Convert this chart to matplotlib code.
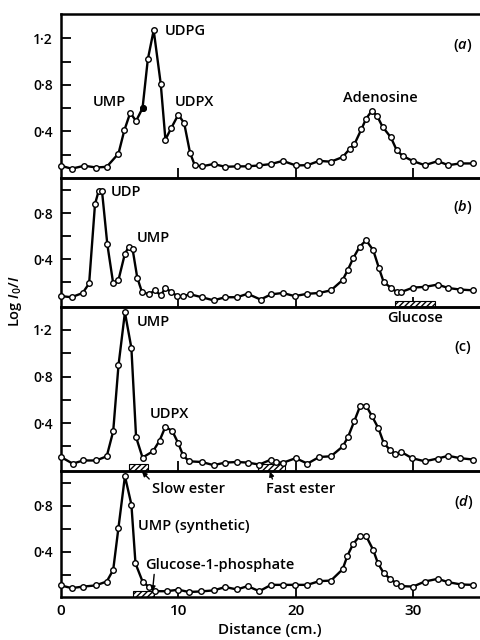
import matplotlib
matplotlib.use("Agg")
import matplotlib.pyplot as plt

plt.rcParams['font.family'] = ['Open Sans', 'DejaVu Sans']
plt.rcParams['font.weight'] = 'semibold'
plt.rcParams['mathtext.fontset'] = 'custom'
plt.rcParams['mathtext.it'] = 'Open Sans:italic:semibold'
plt.rcParams['mathtext.rm'] = 'Open Sans:semibold'

# panel (a)
dist_a = [0, 0.9, 2.0, 3.0, 3.9, 4.9, 5.4, 5.9, 6.4, 6.95, 7.4, 7.9, 8.5, 8.9, 9.4,
          10.0, 10.5, 11.0, 11.4, 12.0, 13.0, 14.0, 15.0, 15.9, 16.9, 17.9, 18.9,
          20.0, 21.0, 22.0, 23.0, 24.0, 24.6, 25.0, 25.6, 26.0, 26.5, 26.95, 27.4,
          28.1, 28.6, 29.1, 30.0, 31.0, 32.1, 33.0, 34.0, 35.1]
logi_a = [0.105, 0.08, 0.105, 0.09, 0.096, 0.21, 0.41, 0.56, 0.49, 0.6, 1.02, 1.27,
          0.81, 0.33, 0.43, 0.545, 0.47, 0.215, 0.11, 0.1, 0.12, 0.096, 0.1, 0.1,
          0.108, 0.12, 0.147, 0.108, 0.11, 0.147, 0.14, 0.18, 0.25, 0.29, 0.42, 0.51,
          0.58, 0.53, 0.44, 0.35, 0.24, 0.19, 0.145, 0.11, 0.145, 0.11, 0.125, 0.125]
filled_a = [6.95]
filled_logi_a = [0.6]

# panel (b)
dist_b = [0, 0.9, 1.85, 2.4, 2.9, 3.2, 3.5, 3.95, 4.45, 4.9, 5.45, 5.8, 6.1, 6.5,
          6.9, 7.5, 8.0, 8.5, 8.9, 9.4, 9.9, 10.4, 11.0, 12.0, 13.0, 14.0, 15.0,
          15.9, 17.0, 17.9, 18.9, 19.9, 21.0, 22.0, 23.0, 24.0, 24.45, 24.9, 25.45,
          26.0, 26.6, 27.1, 27.5, 28.1, 28.6, 29.0, 30.0, 31.0, 32.1, 33.0, 34.0, 35.1]
logi_b = [0.08, 0.07, 0.107, 0.19, 0.88, 0.99, 0.99, 0.53, 0.19, 0.22, 0.45, 0.51,
          0.49, 0.24, 0.116, 0.096, 0.13, 0.087, 0.15, 0.116, 0.08, 0.078, 0.096,
          0.07, 0.043, 0.07, 0.07, 0.1, 0.05, 0.095, 0.107, 0.08, 0.1, 0.107, 0.13,
          0.22, 0.31, 0.41, 0.51, 0.565, 0.48, 0.32, 0.2, 0.154, 0.116, 0.116, 0.154,
          0.16, 0.18, 0.15, 0.137, 0.13]

# panel (c)
dist_c = [0, 1.0, 1.9, 3.0, 3.9, 4.45, 4.9, 5.45, 6.0, 6.4, 6.95, 7.85, 8.4, 8.9,
          9.5, 10.0, 10.4, 10.9, 12.0, 13.0, 14.0, 15.0, 15.9, 16.9, 17.9, 18.3,
          18.9, 20.0, 21.0, 22.0, 23.0, 24.0, 24.45, 25.0, 25.5, 26.0, 26.5, 27.05,
          27.5, 28.0, 28.5, 29.0, 29.9, 31.0, 32.1, 33.0, 34.0, 35.1]
logi_c = [0.11, 0.053, 0.08, 0.08, 0.116, 0.33, 0.895, 1.35, 1.045, 0.28, 0.105,
          0.16, 0.25, 0.37, 0.33, 0.226, 0.125, 0.073, 0.067, 0.04, 0.062, 0.067,
          0.062, 0.045, 0.088, 0.067, 0.06, 0.1, 0.053, 0.11, 0.116, 0.2, 0.28, 0.42,
          0.55, 0.55, 0.46, 0.355, 0.23, 0.174, 0.134, 0.153, 0.1, 0.073, 0.097,
          0.12, 0.1, 0.088]

# panel (d)
dist_d = [0, 0.9, 1.9, 2.95, 3.9, 4.45, 4.9, 5.45, 6.0, 6.35, 6.95, 7.5, 8.0, 9.0,
          10.0, 10.9, 11.9, 13.0, 14.0, 15.0, 15.9, 16.9, 17.9, 18.9, 19.9, 21.0,
          22.0, 23.0, 24.0, 24.4, 24.9, 25.45, 26.0, 26.6, 27.0, 27.5, 28.05, 28.55,
          29.0, 30.0, 31.0, 32.1, 33.0, 34.1, 35.1]
logi_d = [0.11, 0.087, 0.1, 0.11, 0.144, 0.244, 0.61, 1.055, 0.81, 0.3, 0.144,
          0.096, 0.06, 0.06, 0.073, 0.053, 0.058, 0.067, 0.096, 0.075, 0.104, 0.06,
          0.115, 0.115, 0.115, 0.115, 0.147, 0.152, 0.25, 0.366, 0.47, 0.537, 0.537,
          0.417, 0.303, 0.215, 0.167, 0.13, 0.104, 0.1, 0.144, 0.167, 0.138, 0.118,
          0.115]

# hatched spots (start, end in cm)
glucose_b = (28.5, 31.9)
slow_ester_c = (5.8, 7.4)
fast_ester_c = (16.8, 19.1)
g1p_d = (6.1, 7.9)

ytick_labels = {0.4: '0·4', 0.8: '0·8', 1.2: '1·2'}

fig = plt.figure(figsize=(4.8, 6.4), dpi=100)

# [left, bottom, width, height], ylim, yticks
panels = [
    ([0.127, 0.7219, 0.873, 0.2563], (0.0, 1.41), [0.2, 0.4, 0.6, 0.8, 1.0, 1.2]),
    ([0.127, 0.5203, 0.873, 0.2016], (-0.015, 1.107), [0.2, 0.4, 0.6, 0.8, 1.0]),
    ([0.127, 0.2641, 0.873, 0.2563], (-0.01, 1.397), [0.2, 0.4, 0.6, 0.8, 1.0, 1.2]),
    ([0.127, 0.0672, 0.873, 0.1969], (0.01, 1.10), [0.2, 0.4, 0.6, 0.8, 1.0]),
]
data = [(dist_a, logi_a), (dist_b, logi_b), (dist_c, logi_c), (dist_d, logi_d)]

axes = []
for (rect, ylim, yt), (xs, ys) in zip(panels, data):
    ax = fig.add_axes(rect)
    ax.patch.set_visible(False)
    ax.plot(xs, ys, color='black', lw=1.7, marker='o', ms=4.0,
            mfc='white', mec='black', mew=1.0, zorder=3, clip_on=False)
    ax.set_xlim(0, 35.7)
    ax.set_ylim(*ylim)
    ax.set_yticks(yt)
    ax.set_yticklabels([ytick_labels.get(round(v, 1), '') for v in yt])
    ax.set_xticks([10, 20, 30])
    ax.set_xticklabels([])
    ax.tick_params(direction='in', length=7, width=1.3, labelsize=10, pad=6)
    for s in ['left', 'top', 'bottom']:
        ax.spines[s].set_linewidth(1.8)
    ax.spines['right'].set_visible(False)
    axes.append(ax)

ax_a, ax_b, ax_c, ax_d = axes

ax_a.plot(filled_a, filled_logi_a, 'o', color='black', ms=4.0, zorder=4)

# bottom panel gets the distance labels
ax_d.set_xticks([0, 10, 20, 30])
ax_d.set_xticklabels(['0', '10', '20', '30'], fontsize=11)
ax_d.tick_params(axis='x', length=7, pad=5)
ax_d.xaxis.get_major_ticks()[0].tick1line.set_visible(False)


def spot(ax, span, top=0.045):
    ax.axvspan(span[0], span[1], ymin=0.0, ymax=top, facecolor='white',
               edgecolor='black', hatch='//////', lw=0.8, zorder=2)


spot(ax_b, glucose_b)
spot(ax_c, slow_ester_c)
spot(ax_c, fast_ester_c)
spot(ax_d, g1p_d)

fs = 10.5
arrow = dict(arrowstyle='-|>', color='black', lw=1.0, shrinkA=0, shrinkB=0,
             mutation_scale=7)

ax_a.text(8.85, 1.26, 'UDPG', fontsize=fs, va='center')
ax_a.text(2.7, 0.65, 'UMP', fontsize=fs, va='center')
ax_a.text(9.7, 0.65, 'UDPX', fontsize=fs, va='center')
ax_a.text(24.0, 0.685, 'Adenosine', fontsize=fs, va='center')
ax_a.text(33.4, 1.14, r'($\mathit{a}$)', fontsize=fs, va='center')

ax_b.text(4.2, 0.985, 'UDP', fontsize=fs, va='center')
ax_b.text(6.45, 0.585, 'UMP', fontsize=fs, va='center')
ax_b.text(33.4, 0.855, r'($\mathit{b}$)', fontsize=fs, va='center')
ax_b.text(27.8, -0.11, 'Glucose', fontsize=fs, va='center', clip_on=False)

ax_c.text(6.45, 1.27, 'UMP', fontsize=fs, va='center')
ax_c.text(7.6, 0.48, 'UDPX', fontsize=fs, va='center')
ax_c.text(33.5, 1.054, '(c)', fontsize=fs, va='center')
ax_c.annotate('Slow ester', xy=(6.9, -0.015), xytext=(7.75, -0.163),
              fontsize=fs, va='center', annotation_clip=False,
              arrowprops=dict(arrow, relpos=(0.0, 1.0)))
ax_c.annotate('Fast ester', xy=(17.8, -0.015), xytext=(17.5, -0.163),
              fontsize=fs, va='center', annotation_clip=False,
              arrowprops=dict(arrow, relpos=(0.1, 1.0)))

ax_d.text(33.5, 0.834, r'($\mathit{d}$)', fontsize=fs, va='center')
ax_d.text(6.55, 0.62, 'UMP (synthetic)', fontsize=fs, va='center')
ax_d.annotate('Glucose-1-phosphate', xy=(7.8, 0.06), xytext=(7.2, 0.29),
              fontsize=fs, va='center',
              arrowprops=dict(arrow, relpos=(0.06, 0.0)))

fig.text(0.033, 0.53, r'Log $\mathit{I}_0/\mathit{I}$', rotation=90,
         fontsize=10.5, ha='center', va='center')
fig.text(0.5625, 0.016, 'Distance (cm.)', fontsize=11, ha='center', va='center')

fig.savefig('out.png', dpi=100)
